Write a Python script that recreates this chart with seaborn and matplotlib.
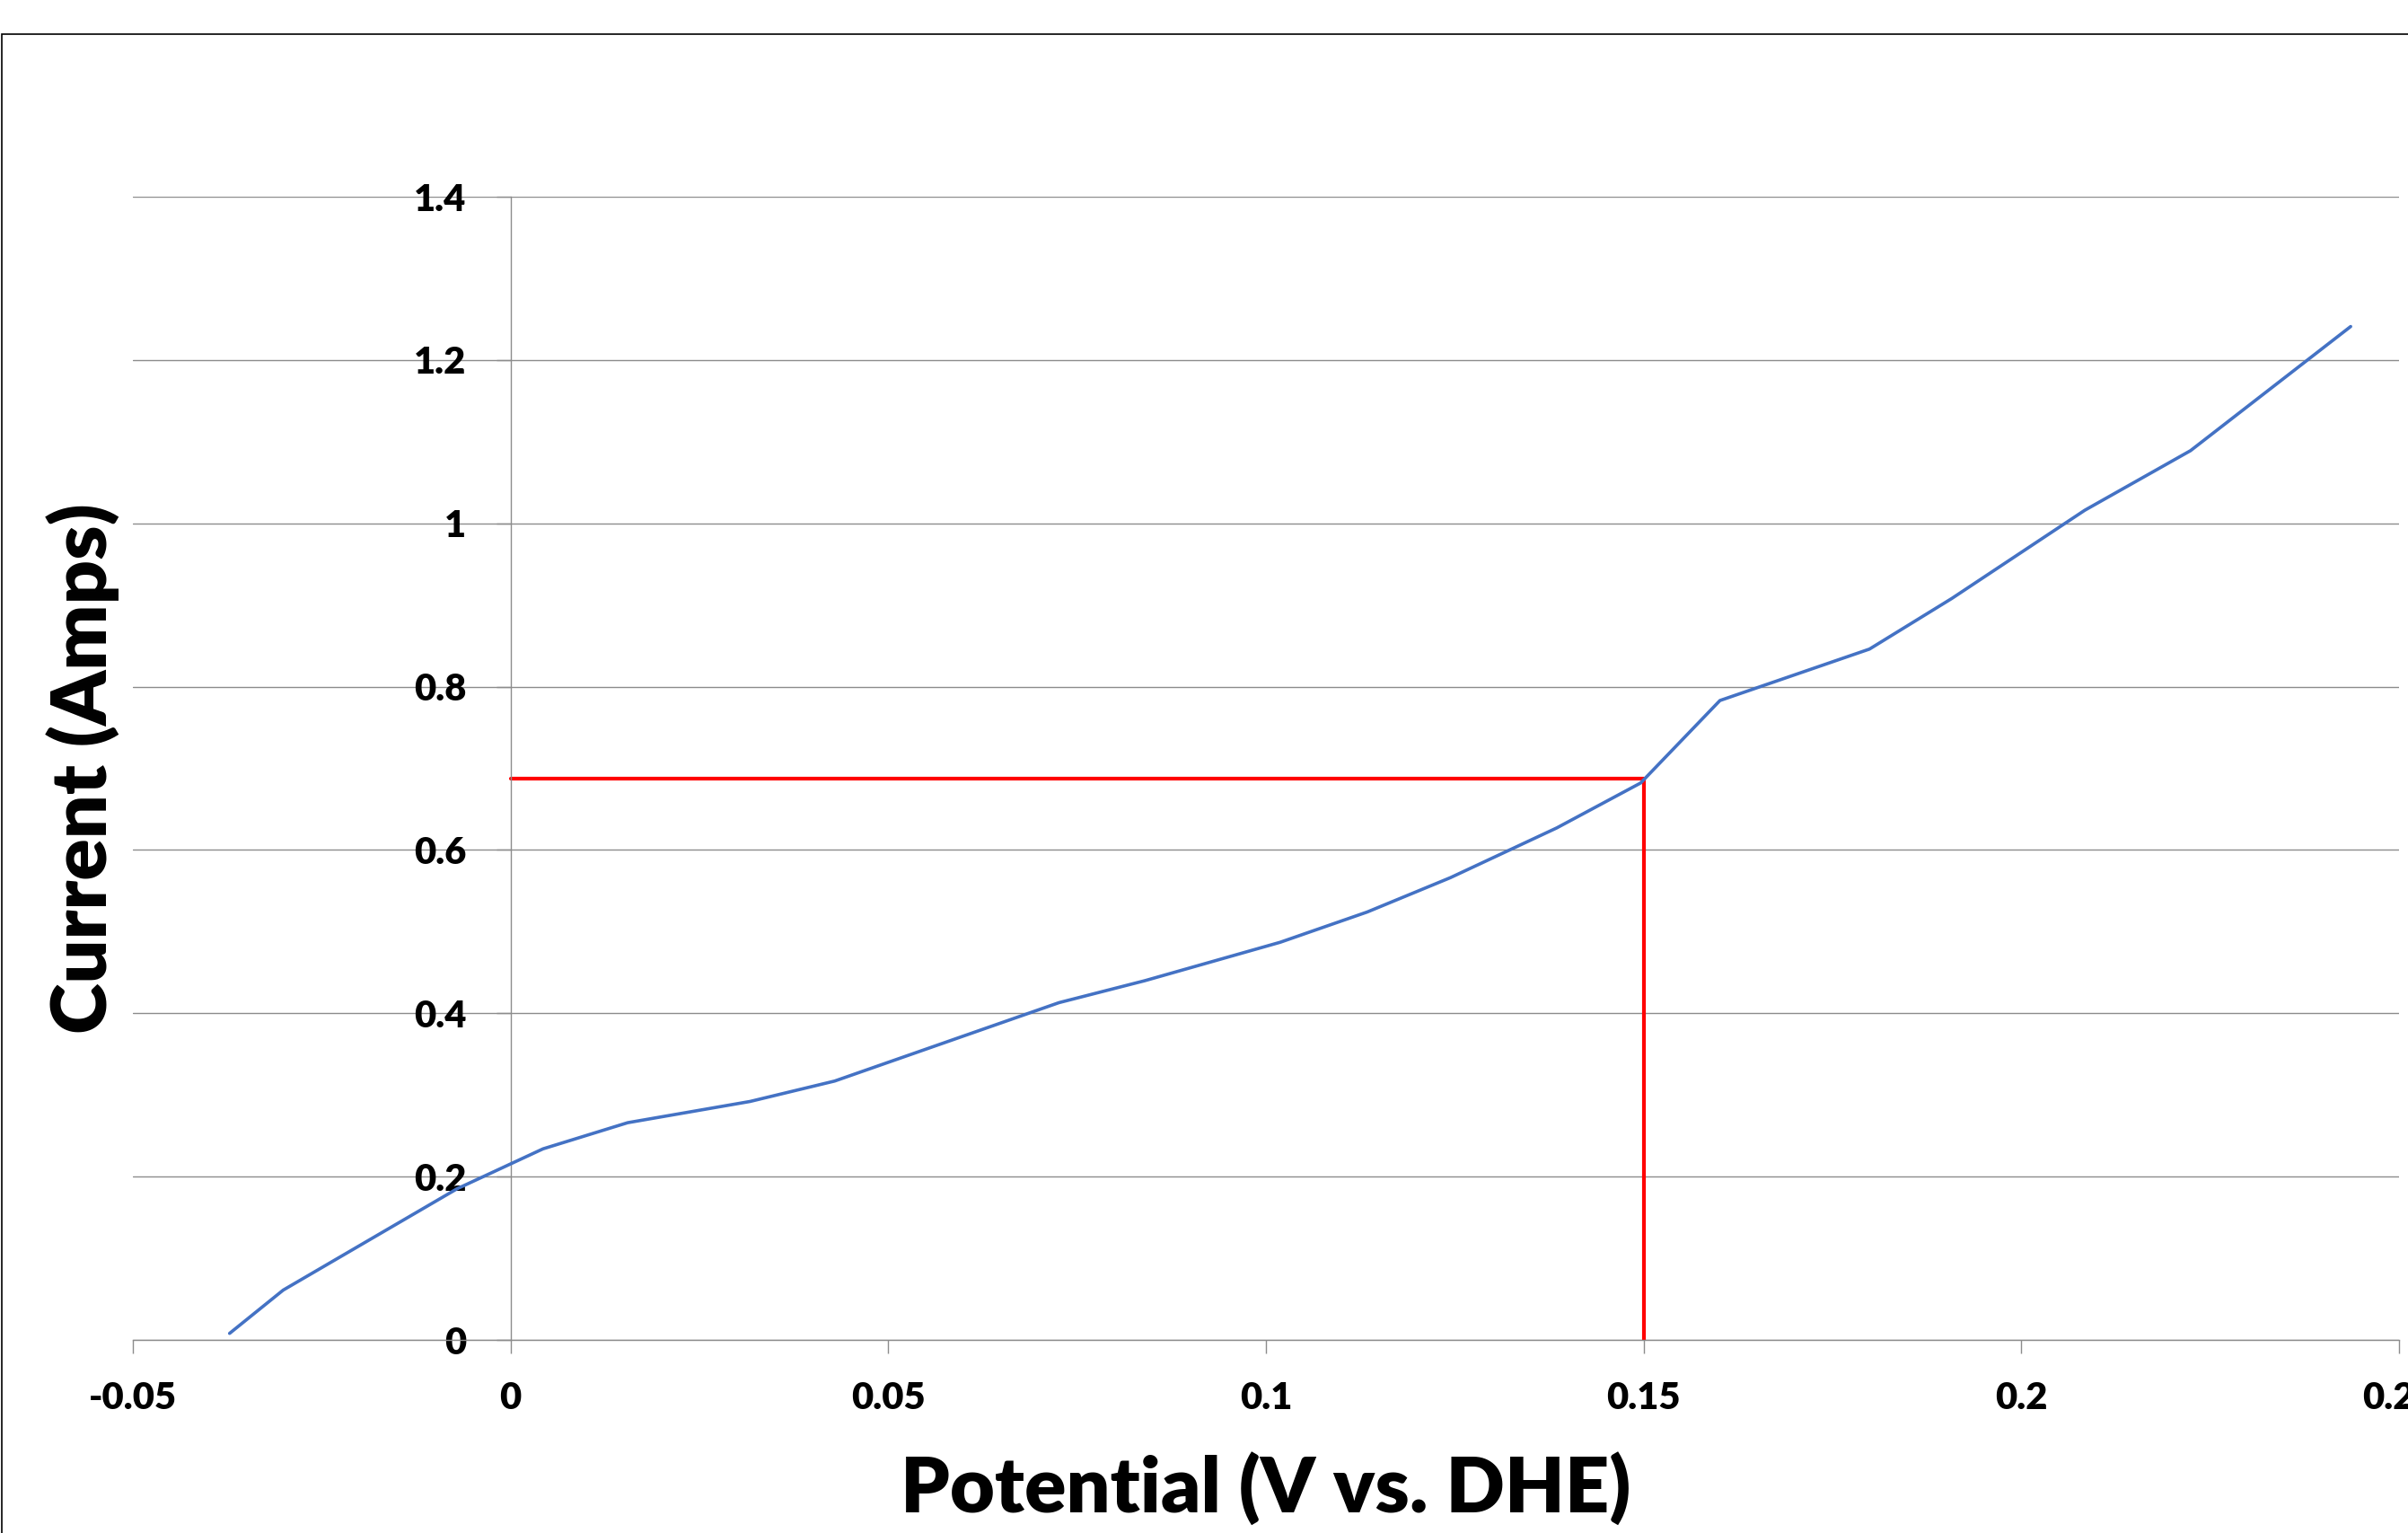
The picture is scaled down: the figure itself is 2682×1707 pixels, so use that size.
import matplotlib
matplotlib.use('Agg')
import matplotlib.pyplot as plt
import seaborn as sns
import pandas as pd
from matplotlib.patches import Rectangle

# Valores (curva de polarização)
potential = [-0.0372, -0.0301, -0.0071, 0.0043, 0.0155, 0.0317, 0.0429, 0.0726,
             0.0840, 0.1019, 0.1134, 0.1244, 0.1385, 0.1496, 0.1601, 0.1799,
             0.1908, 0.2084, 0.2224, 0.2436]
current = [0.008, 0.061, 0.185, 0.234, 0.266, 0.292, 0.317, 0.413,
           0.440, 0.487, 0.524, 0.566, 0.627, 0.682, 0.783, 0.846,
           0.908, 1.016, 1.089, 1.241]

# Linhas de referência (vermelho)
guide_x = [0.0, 0.15, 0.15]
guide_y = [0.687, 0.687, 0.0]

x_ticks = [-0.05, 0.0, 0.05, 0.1, 0.15, 0.2, 0.25]
x_tick_labels = ['-0.05', '0', '0.05', '0.1', '0.15', '0.2', '0.25']
y_ticks = [0.0, 0.2, 0.4, 0.6, 0.8, 1.0, 1.2, 1.4]
y_tick_labels = ['0', '0.2', '0.4', '0.6', '0.8', '1', '1.2', '1.4']

sns.set_theme(style='white')
plt.rcParams['font.family'] = ['Lato', 'DejaVu Sans']
plt.rcParams['font.weight'] = 'bold'
plt.rcParams['text.color'] = 'black'
plt.rcParams['axes.labelcolor'] = 'black'

W, H = 2682, 1707
GRAY = '#8c8c8c'

fig = plt.figure(figsize=(W / 100, H / 100), dpi=100, facecolor='white')
ax = fig.add_axes([148 / W, 1 - 1492 / H, (2672 - 148) / W, (1492 - 219) / H])

df = pd.DataFrame({'potential': potential, 'current': current})
sns.lineplot(data=df, x='potential', y='current', sort=False, estimator=None,
             color='#4472C4', lw=2.6, ax=ax, zorder=3, solid_capstyle='round')
sns.lineplot(x=guide_x, y=guide_y, sort=False, estimator=None,
             color='#FF0000', lw=3, ax=ax, zorder=2)

ax.set_xlim(-0.05, 0.25)
ax.set_ylim(0, 1.4)
ax.set_xticks(x_ticks)
ax.set_xticklabels(x_tick_labels)
ax.set_yticks(y_ticks)
ax.set_yticklabels(y_tick_labels)

# Grade horizontal e eixos no estilo Excel
ax.yaxis.grid(True, color=GRAY, lw=1.0)
ax.xaxis.grid(False)
ax.set_axisbelow(True)
for s in ['top', 'right']:
    ax.spines[s].set_visible(False)
ax.spines['left'].set_position(('data', 0))
ax.spines['left'].set_color(GRAY)
ax.spines['left'].set_linewidth(1.0)
ax.spines['bottom'].set_color(GRAY)
ax.spines['bottom'].set_linewidth(1.0)

ax.tick_params(axis='y', left=True, direction='out', length=11.5, width=1,
               color=GRAY, pad=24, labelsize=30, labelcolor='black')
ax.tick_params(axis='x', bottom=True, direction='out', length=11, width=1,
               color=GRAY, pad=22, labelsize=30, labelcolor='black')
for lbl in ax.get_xticklabels() + ax.get_yticklabels():
    lbl.set_fontweight('heavy')

ax.set_xlabel('Potential (V vs. DHE)', fontsize=62, fontweight='heavy', color='black')
ax.xaxis.set_label_coords(0.5, -0.1516)
ax.xaxis.label.set_va('baseline')
ax.set_ylabel('Current (Amps)', fontsize=62, fontweight='heavy', color='black')
ax.yaxis.set_label_coords(-0.0111, 0.5)
ax.yaxis.label.set_va('baseline')

# Borda da área do gráfico
fig.add_artist(Rectangle((2 / W, -0.1), 1.2, 1.1 - 38 / H, transform=fig.transFigure,
                         fill=False, ec='black', lw=1.2))

fig.savefig('out.png', dpi=100, facecolor='white')
